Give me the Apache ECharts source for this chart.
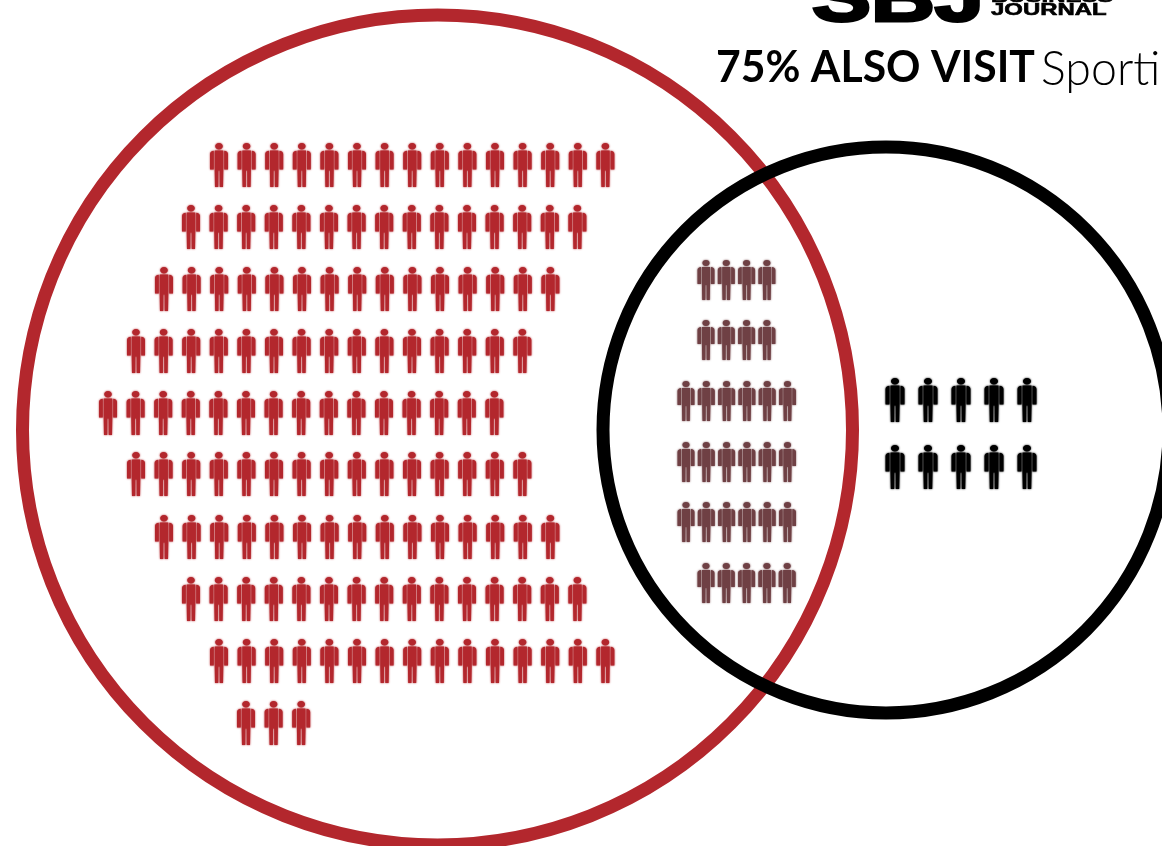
<!DOCTYPE html>
<html>
<head>
<meta charset="utf-8">
<style>html,body{margin:0;padding:0;background:#fff;overflow:hidden}#chart{width:1162px;height:846px}</style>
<script src="https://cdn.jsdelivr.net/npm/echarts@6/dist/echarts.min.js"></script>
</head>
<body>
<div id="chart"></div>
<script>
// Rows of people: [first x, row y, head count]
const redRows = [[219,165,15],[191,227,15],[164,289,15],[136,351,15],[108,413,15],[136,474,15],[164,537,15],[191,599,15],[219,661,15],[246,723,3]];
const overlapRows = [[706,280,4],[706,340,4],[686,401,6],[686,462,6],[686,522,6],[706,583,5]];
const blackRows = [[895,400,5],[895,467,5]];
const redStep = 27.6, overlapStep = 20.3, blackStep = 33;

// Venn rings: [centre x, centre y, diameter]
const redRing = [437.5, 430, 830];
const blackRing = [886, 430, 566];

const headlineBold = '75% ALSO VISIT';
const headlineLight = 'Sporti';
const logoMark = 'SBJ';
const logoLines = ['BUSINESS', 'JOURNAL'];

const RED = '#b3272d', MAROON = '#6f4044', BLACK = '#000000';
// Head, then torso with shoulders and arms, legs split by a narrow gap
const PERSON = 'path://M9 0C11.2 0 12.8 1.4 12.8 3.3C12.8 5.2 11.2 6.6 9 6.6C6.8 6.6 5.2 5.2 5.2 3.3C5.2 1.4 6.8 0 9 0Z' +
  'M4.7 7.6L13.3 7.6L13.3 27L13 44L9.7 44L9.6 27.5L8.4 27.5L8.3 44L5 44L4.7 27Z' +
  'M3.8 7.8L3.8 26.5L0 26.5L0 11C0 9.2 1.6 8 3.8 7.8Z' +
  'M14.2 7.8L14.2 26.5L18 26.5L18 11C18 9.2 16.4 8 14.2 7.8Z';

function expand(rows, step) {
  const pts = [];
  rows.forEach(([x0, y, n]) => { for (let i = 0; i < n; i++) pts.push([x0 + i * step, y]); });
  return pts;
}
function people(name, rows, step, color, size) {
  return {
    name, type: 'scatter', data: expand(rows, step), symbol: PERSON, symbolSize: size, silent: true, z: 3,
    itemStyle: { color, opacity: 1, shadowBlur: 2, shadowColor: color }
  };
}
function ring(name, c, color, z) {
  return {
    name, type: 'scatter', data: [[c[0], c[1]]], symbol: 'circle', symbolSize: c[2], silent: true, z,
    itemStyle: { color: 'rgba(0,0,0,0)', borderColor: color, borderWidth: 13, opacity: 1 }
  };
}

const chart = echarts.init(document.getElementById('chart'));
chart.setOption({
  animation: false,
  backgroundColor: '#fff',
  grid: { left: 0, right: 0, top: 0, bottom: 0 },
  xAxis: { type: 'value', min: 0, max: 1162, show: false },
  yAxis: { type: 'value', min: 0, max: 846, inverse: true, show: false },
  series: [
    ring('Red ring', redRing, RED, 1),
    ring('Black ring', blackRing, BLACK, 2),
    people('Red people', redRows, redStep, RED, [18, 44]),
    people('Overlap people', overlapRows, overlapStep, MAROON, [17, 40]),
    people('Black people', blackRows, blackStep, BLACK, [19, 44])
  ],
  graphic: [
    { type: 'text', x: 716, y: 46, scaleX: 0.97, style: { text: headlineBold, fontFamily: 'Lato', fontWeight: 700, fontSize: 44, fill: '#000' } },
    { type: 'text', x: 1041, y: 46, style: { text: headlineLight, fontFamily: 'Lato', fontWeight: 300, fontSize: 46.5, fill: '#000' } },
    { type: 'text', x: 812, y: -31.5, scaleX: 1.3, style: { text: logoMark, fontFamily: 'Liberation Sans', fontWeight: 900, fontSize: 68, fill: '#000', stroke: '#000', lineWidth: 3 } },
    { type: 'text', x: 991, y: -11, scaleX: 1.45, style: { text: logoLines[0], fontFamily: 'Liberation Sans', fontWeight: 700, fontSize: 16.5, fill: '#000', stroke: '#000', lineWidth: 0.6 } },
    { type: 'text', x: 991, y: 2, scaleX: 1.45, style: { text: logoLines[1], fontFamily: 'Liberation Sans', fontWeight: 700, fontSize: 16.5, fill: '#000', stroke: '#000', lineWidth: 0.6 } }
  ]
});
</script>
</body>
</html>
